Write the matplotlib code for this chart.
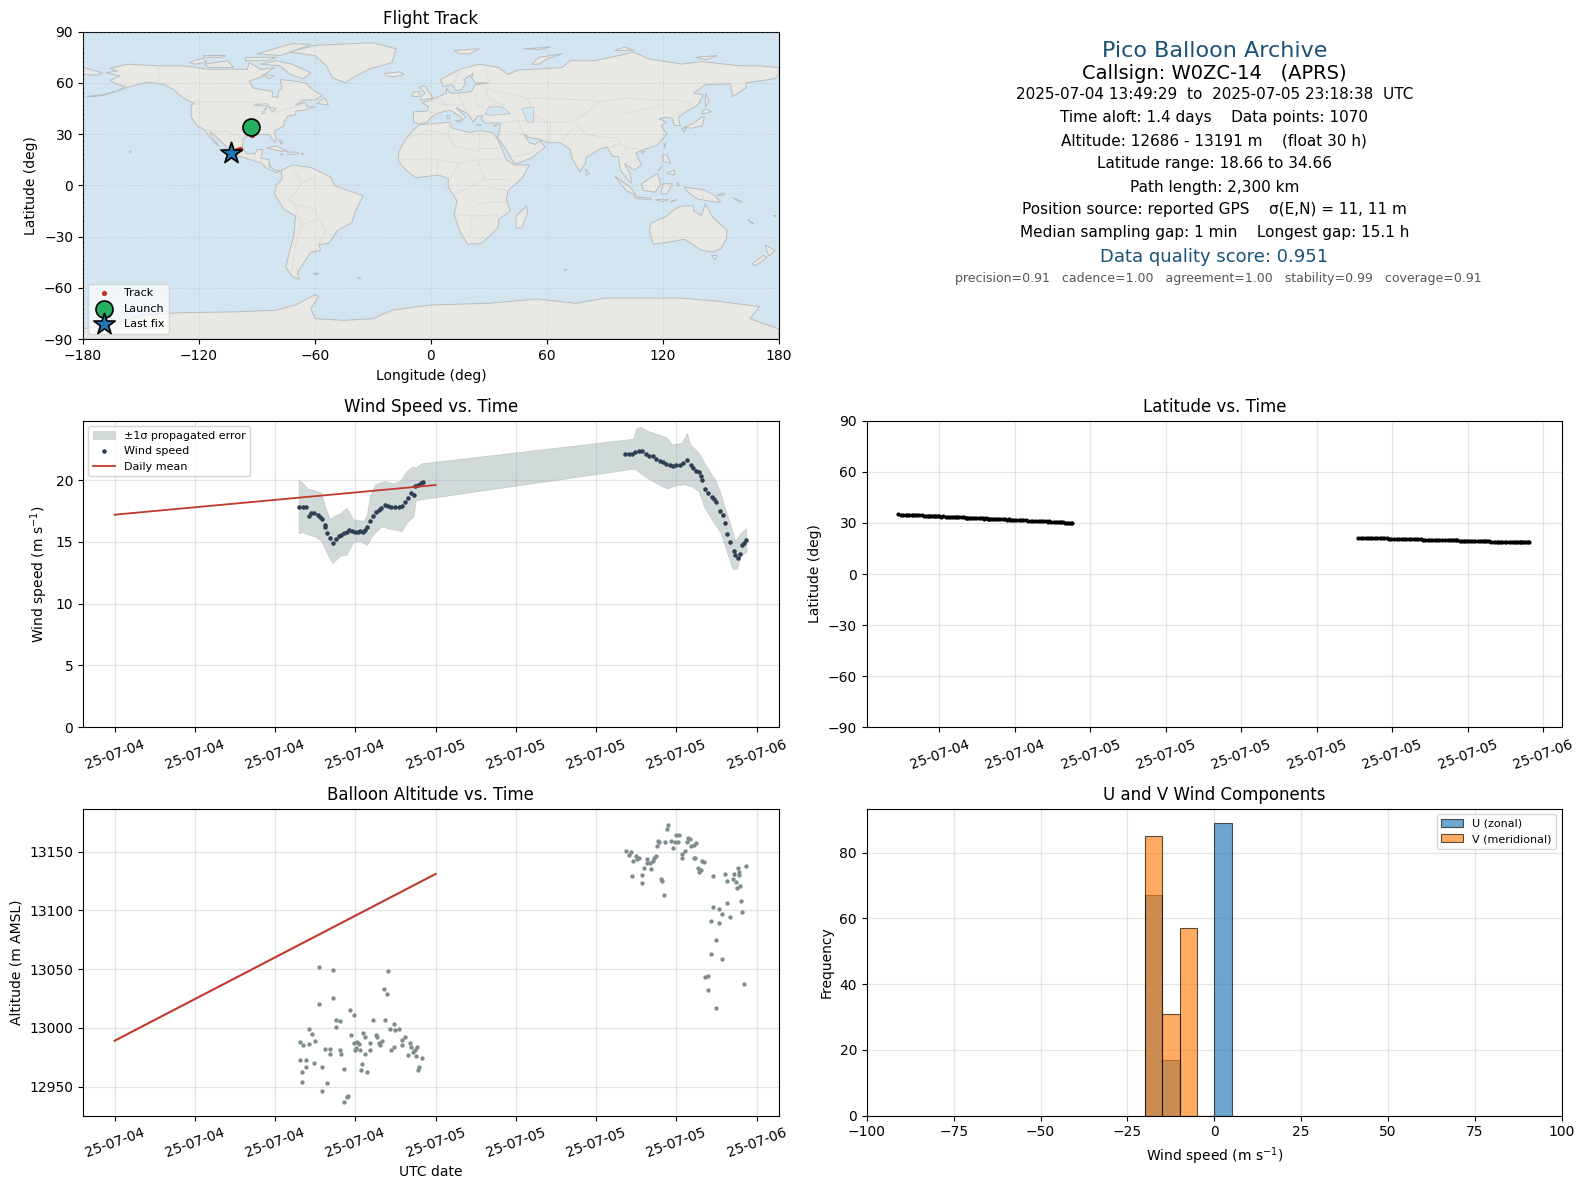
import datetime as dt
import numpy as np
import matplotlib
matplotlib.use("Agg")
import matplotlib.pyplot as plt
import matplotlib.dates as mdates

# ---- time series (hours since 2025-07-04 00:00 UTC) ----
wind_h = [13.8,14.05,14.3,14.53,14.68,14.93,15.18,15.38,15.5,15.73,15.75,15.9,16.1,16.33,16.55,16.75,16.93,17.18,17.38,17.53,17.73,17.95,18.2,18.38,18.55,18.7,18.88,19.1,19.35,19.58,19.75,19.95,20.2,20.45,20.7,20.98,21.25,21.5,21.73,21.93,22.15,22.38,22.45,22.65,22.88,23.03,
          38.2,38.45,38.7,38.95,39.2,39.45,39.7,39.95,40.25,40.5,40.75,41.0,41.25,41.5,41.75,42.0,42.25,42.5,42.8,43.08,43.28,43.45,43.7,43.85,43.95,44.15,44.4,44.65,44.85,45.0,45.25,45.48,45.68,45.83,46.05,46.28,46.4,46.58,46.75,46.88,47.08,47.25]
wind_v = [17.82,17.85,17.80,17.12,17.31,17.31,17.18,17.02,16.88,16.40,16.24,15.73,15.30,14.92,15.24,15.46,15.59,15.73,15.78,15.97,15.91,15.81,15.81,15.86,15.83,15.99,16.21,16.69,17.07,17.42,17.61,17.77,17.98,17.93,17.85,17.80,17.82,17.90,18.23,18.55,18.98,18.79,19.54,19.60,19.73,19.87,
          22.10,22.10,22.12,22.28,22.37,22.34,22.12,21.96,21.94,21.69,21.56,21.45,21.29,21.24,21.18,21.24,21.21,21.37,21.59,21.21,20.94,20.75,20.62,20.30,20.0,19.30,18.95,18.66,18.49,18.20,17.53,17.15,16.53,15.67,14.97,14.27,13.90,13.71,14.03,14.78,14.89,15.13]
band_up_h = [13.8,14.13,14.5,14.75,15.13,15.5,15.75,16.13,16.38,16.88,17.38,17.88,18.63,18.88,19.13,19.5,20.25,20.88,21.38,21.88,22.3,22.55,23.0,
             38.83,39.0,39.33,39.95,40.7,41.33,41.7,42.45,42.83,43.08,43.7,44.2,44.95,45.33,45.95,46.45,46.83,47.25]
band_up_v = [20.0,19.70,19.22,19.22,19.09,18.95,17.88,16.80,17.02,17.28,17.72,16.80,16.67,17.07,18.68,19.62,19.89,19.70,19.89,20.70,21.05,20.97,21.32,
             23.31,24.11,24.27,23.92,23.66,23.39,22.85,22.98,23.79,22.85,22.18,21.24,19.97,18.95,16.80,15.05,15.67,16.05]
band_lo_h = [13.8,14.13,14.63,15.0,15.5,15.88,16.33,16.88,17.38,17.88,18.38,18.88,19.38,20.0,20.5,21.5,21.88,22.38,22.55,23.0,
             38.9,39.83,40.58,41.33,42.0,42.58,43.2,43.7,44.08,44.83,45.33,45.83,46.25,46.58,46.83,47.3]
band_lo_v = [15.67,15.73,15.51,15.40,15.05,14.11,13.23,13.84,13.92,14.97,15.05,14.70,15.59,16.21,16.05,15.83,16.53,17.02,18.31,18.41,
             20.89,20.16,19.70,19.27,19.54,19.62,19.44,19.09,17.88,16.53,15.73,14.11,12.77,12.77,13.84,14.17]
daily_h = [0, 24]
daily_wind = [17.2, 19.6]
daily_alt = [12989, 13131]

lat_v = [35.0,34.9,34.8,34.7,34.6,34.5,34.3,34.2,34.1,34.0,34.0,33.9,33.7,33.6,33.5,33.4,33.3,33.2,33.1,33.0,32.9,32.8,32.7,32.6,32.5,32.4,32.3,32.2,32.1,32.0,31.9,31.7,31.6,31.5,31.3,31.2,31.0,30.9,30.8,30.6,30.5,30.3,30.3,30.1,30.0,29.8,
         21.3,21.3,21.2,21.2,21.1,21.0,20.9,20.8,20.8,20.7,20.6,20.5,20.4,20.3,20.2,20.1,20.1,20.0,19.9,19.8,19.7,19.7,19.6,19.5,19.5,19.4,19.3,19.2,19.2,19.1,19.0,19.0,18.9,18.9,18.8,18.8,18.8,18.7,18.7,18.7,18.7,18.7]
lat_extra_h = [13.95,14.2,14.4,14.6,14.8,15.05,15.28,15.45,15.62,15.83,16.0,16.2,16.45,16.65,16.85,17.05,17.28,17.45,17.63,17.85,18.08,18.3,18.47,18.63,18.8,19.0,19.22,19.47,19.67,19.85,20.08,20.33,20.58,20.85,21.12,21.38,21.62,21.83,22.05,22.27,22.55,22.77,22.95,
               38.33,38.58,38.83,39.08,39.33,39.58,39.83,40.1,40.38,40.63,40.88,41.13,41.38,41.63,41.88,42.13,42.38,42.65,42.95,43.18,43.38,43.58,43.78,44.05,44.28,44.53,44.75,44.93,45.13,45.37,45.58,45.75,45.95,46.17,46.5,46.67,46.82,46.98,47.17]
lat_extra_v = [34.95,34.85,34.75,34.65,34.55,34.4,34.25,34.15,34.05,34.0,33.95,33.8,33.65,33.55,33.45,33.35,33.25,33.15,33.05,32.95,32.85,32.75,32.65,32.55,32.45,32.35,32.25,32.15,32.05,31.95,31.8,31.65,31.55,31.4,31.25,31.1,30.95,30.85,30.7,30.55,30.4,30.2,30.05,
               21.3,21.25,21.2,21.15,21.05,20.95,20.85,20.8,20.75,20.65,20.55,20.45,20.35,20.25,20.15,20.1,20.05,19.95,19.85,19.75,19.7,19.65,19.55,19.5,19.45,19.35,19.25,19.2,19.15,19.05,19.0,18.95,18.9,18.85,18.8,18.75,18.7,18.7,18.7]

alt_h = [15.28,16.33,20.45,20.15,20.38,16.33,15.28,17.6,17.9,19.33,20.23,16.55,16.83,20.9,16.55,20.6,14.53,21.23,21.0,18.58,14.75,17.68,19.58,18.73,19.63,21.73,21.5,15.0,13.85,14.53,14.08,18.13,17.9,18.28,19.1,20.0,19.78,19.85,22.1,21.5,20.9,20.68,19.1,18.35,18.05,17.98,15.73,16.1,16.85,16.1,16.93,18.73,22.18,22.58,22.48,22.33,21.95,22.55,13.85,14.3,23.0,14.9,18.5,14.3,15.5,17.15,18.43,14.0,18.88,22.78,22.7,14.0,15.88,15.5,17.43,17.35,17.15,
         41.38,41.3,42.2,41.98,42.88,43.03,40.63,41.6,42.13,41.9,41.15,40.7,42.8,43.48,43.3,43.13,40.55,41.73,42.65,38.25,38.6,42.43,42.43,38.45,38.98,39.2,39.05,40.48,40.35,39.8,38.75,40.25,39.83,40.0,39.58,40.1,38.68,39.43,39.43,40.85,40.93,41.08,43.35,43.43,43.93,44.08,43.63,43.85,43.7,44.75,45.65,46.33,46.63,46.7,47.23,46.7,46.25,45.8,46.48,46.78,46.55,46.85,45.8,44.75,45.2,46.93,45.43,46.03,44.6,45.2,44.98,44.6,45.43,44.38,44.15,47.08,44.38,44.98]
alt_v = [13052,13049,13048,13033,13029,13025,13020,13015,13011,13007,13007,13007,13006,13003,13001,12999,12999,12999,12998,12996,12995,12994,12994,12992,12992,12992,12990,12989,12988,12986,12985,12988,12987,12986,12987,12989,12987,12985,12987,12985,12984,12981,12981,12981,12983,12981,12982,12982,12981,12978,12978,12978,12984,12984,12981,12979,12977,12976,12973,12973,12974,12970,12969,12967,12967,12965,12964,12962,12962,12967,12964,12954,12953,12946,12942,12941,12937,
         13173,13169,13164,13164,13162,13161,13159,13159,13158,13158,13158,13158,13158,13157,13156,13155,13155,13153,13151,13151,13150,13148,13145,13147,13146,13145,13144,13146,13145,13144,13142,13142,13140,13140,13136,13135,13129,13130,13123,13127,13125,13113,13145,13145,13142,13141,13136,13134,13133,13129,13131,13131,13136,13133,13138,13130,13127,13125,13124,13121,13119,13108,13106,13103,13101,13099,13097,13094,13091,13089,13075,13063,13059,13044,13043,13037,13032,13017]

# ---- histogram ----
hist_bin_left = [-20, -15, -10, -5, 0]
hist_u = [67, 17, 0, 0, 89]
hist_v = [85, 31, 57, 0, 0]
hist_width = 5

# ---- track ----
track_lon = [-93.0,-92.9,-92.8,-92.7,-92.6,-92.5,-92.4,-99.0,-99.6,-100.2,-100.9,-101.5,-102.2,-102.9,-103.6]
track_lat = [34.3,33.5,32.6,31.7,30.9,30.1,29.3,21.3,20.9,20.5,20.2,19.8,19.4,19.0,18.7]
launch = (-93.0, 34.3)
last_fix = (-103.6, 18.7)

# ---- coarse map outlines (lon, lat) ----
land = {
 "north_america": [(-168,66),(-162,67),(-166,68.5),(-157,71),(-141,70),(-128,70),(-115,68),(-108,68),(-95,68),(-94,72),(-88,68),(-81,69),(-87,64),(-94,61),(-92,57),(-82,55),(-82,52),(-79,51.5),(-79,55),(-77,57),(-78,62),(-70,61),(-65,60),(-61,56),(-56,52.5),(-60,50),(-66,50),(-70,47),(-65,48.5),(-64,46),(-60,46),(-66,44),(-70,43.5),(-70,41.5),(-74,40.5),(-76,37),(-76,35),(-81,31.5),(-80,27),(-80.5,25),(-82,27),(-84,30),(-90,29.5),(-94,29.5),(-97,27.5),(-97.5,22),(-95,18.5),(-91,18.5),(-90,21),(-87,21),(-88,16),(-83.5,15),(-83.5,11),(-81,9),(-77.5,8.5),(-80,7.5),(-85,10),(-87.5,13),(-92,14.5),(-96,16),(-102,18),(-105.5,20.5),(-106,23),(-109,26),(-112.5,30),(-114.5,31.5),(-113,28),(-109.5,23),(-112,25),(-115,29),(-117,32.5),(-120.5,34.5),(-124,40),(-124,47),(-122.5,48),(-128,51),(-133,56),(-138,59),(-146,60.5),(-152,59),(-158,57),(-164,54.5),(-158,58),(-162,59),(-166,61.5),(-161,64)],
 "greenland": [(-73,78),(-60,82),(-30,83.5),(-18,80),(-20,72),(-32,68),(-42,62),(-44,60),(-51,63),(-54,70),(-60,76)],
 "baffin": [(-80,73),(-72,71),(-62,66),(-66,62.5),(-73,65),(-78,70),(-88,71)],
 "victoria": [(-117,71),(-105,73),(-102,69),(-115,69)],
 "ellesmere": [(-90,77),(-72,83),(-62,82.5),(-78,76)],
 "banks": [(-125,72),(-118,74.5),(-116,72),(-122,71)],
 "devon": [(-96,75),(-80,75),(-85,73),(-96,73)],
 "melville": [(-118,76),(-106,76),(-108,75),(-117,75)],
 "southampton": [(-87,65),(-81,64),(-84,62.5)],
 "newfoundland": [(-59,48),(-55,51.5),(-53,47)],
 "cuba": [(-85,22),(-80,23),(-74,20),(-78,20)],
 "hispaniola": [(-74,19.5),(-69,19.5),(-68.5,18.5),(-74,18)],
 "jamaica": [(-78,18.4),(-76.3,18.1),(-77.5,17.8)],
 "puerto_rico": [(-67,18.5),(-65.7,18.4),(-66.5,18)],
 "bahamas": [(-78.5,26.8),(-76.5,25),(-77.5,24)],
 "hawaii": [(-156,20.2),(-155,19.7),(-155.7,19)],
 "aleutian": [(-178,52),(-170,53),(-164,54.8),(-170,52.5)],
 "iceland": [(-24,65.5),(-16,66.5),(-14,65),(-19,63.5),(-23,64)],
 "britain": [(-5.5,50),(1,51),(0,53),(-2,56),(-3,58.5),(-6,57.5),(-3,54),(-5,52)],
 "ireland": [(-10,52),(-6,52),(-6,55),(-9,54.5)],
 "svalbard": [(12,79),(25,80),(20,77),(15,77)],
 "franz_josef": [(48,80),(62,81),(56,79.5)],
 "severnaya": [(95,79),(105,79),(100,81)],
 "new_siberia": [(137,75),(148,76),(142,73.5)],
 "novaya": [(52,71),(56,75),(68,77),(60,74),(56,71)],
 "sicily": [(12.5,38),(15.5,38.2),(15,36.8)],
 "sardinia": [(8.3,41),(9.7,41),(9.5,39),(8.5,39)],
 "crete": [(23.5,35.5),(26.2,35.2),(24.5,35)],
 "cyprus": [(32.3,35),(34.5,35.5),(33.5,34.6)],
 "south_america": [(-77.5,8.5),(-72,12),(-62,10.5),(-52,5),(-50,0),(-44,-2.5),(-35,-6),(-39,-15),(-41,-22),(-48,-26),(-53,-34),(-58,-34.5),(-57,-38),(-62,-39),(-65,-44),(-69,-51),(-68,-55),(-72,-53),(-75,-48),(-73,-38),(-71,-30),(-70,-18),(-76,-14),(-81,-5),(-80,0),(-77,4)],
 "falkland": [(-61,-51.5),(-58,-51.5),(-59.5,-52.3)],
 "south_georgia": [(-38,-54),(-36,-54.3),(-37,-54.8)],
 "africa": [(-6,35.5),(10,37),(11,33.5),(20,31),(25,32),(32,31),(34,28),(37,21),(39,15),(43,12),(51,12),(47,4),(40,-3),(39,-8),(41,-15),(35,-20),(35,-24),(32,-28),(26,-34),(19,-34.5),(15,-27),(12,-17),(13.5,-9),(9,-1),(9,4),(4,6),(-4,5),(-8,4.5),(-13,9),(-17,14.5),(-16.5,20),(-13,27),(-9.5,32)],
 "madagascar": [(49.5,-12),(50,-16),(47,-25),(44,-25),(44,-18)],
 "eurasia": [(-9,37),(-6,36),(-2,37),(0,39.5),(3,42),(6,43),(10,44),(15.5,40),(16,38),(18,40),(13,45.5),(19,42),(22,37),(24,40.5),(27,41),(26,39),(28,36.5),(36,36.5),(35.5,32),(34.5,28),(39,21),(43,13),(45,13),(52,16),(59,22.5),(56.5,26),(54,24),(51,25),(48,30),(51,28),(56,27),(61,25),(67,25),(72,21),(73,16),(77,8),(80,13),(80,16),(87,21),(91,22.5),(94,17),(97,17),(98,9),(103,2),(104,1.5),(103,7),(100,13),(105,9),(109,12),(106,19),(110,21),(117,23.5),(122,30),(119,35),(122,37),(118,39),(122,40),(125,39),(126,35),(129,35),(128,40),(132,43),(138,47),(141,53),(136,54),(142,59),(155,59.5),(156,52),(163,57),(163,60),(178,62.5),(180,65),(180,69),(170,70),(160,70),(140,72.5),(130,71),(113,74),(105,78),(85,73),(72,73),(68,69),(45,67.5),(40,65),(35,69),(25,71),(15,68),(5,62),(6,58),(11,59),(13,55.5),(16,56),(18,60),(17,62),(22,65.5),(21,63),(23,60),(30,60),(23,59),(21,55),(14,54),(10,54),(8,57),(8,54),(4,52),(-1,49.5),(-4.5,48.5),(-1,46),(-2,43.5),(-9,43)],
 "chukotka": [(-180,65),(-173,64.5),(-170,66),(-180,69)],
 "sumatra": [(95,5.5),(104,-2),(106,-6),(101,-3)],
 "java": [(105,-6.5),(114,-7.5),(114,-8.5),(106,-7.5)],
 "sunda": [(116,-8.3),(123,-8.3),(120,-9.5)],
 "timor": [(124,-9.8),(127,-8.4),(125,-9)],
 "borneo": [(109,1),(117,7),(119,1),(116,-4),(110,-3)],
 "sulawesi": [(120,1),(125,1),(122,-5),(119,-5)],
 "halmahera": [(127.5,2),(128.5,0),(127.5,-0.5)],
 "new_guinea": [(131,-1),(141,-2.5),(147,-6),(150,-10),(143,-9),(138,-8),(133,-4)],
 "new_britain": [(148,-5.5),(152,-4.5),(151,-6)],
 "solomon": [(156,-7),(161,-9.5),(160,-10)],
 "new_caledonia": [(164,-20),(167,-22.3),(165.5,-21.8)],
 "fiji": [(177.3,-17.6),(178.6,-17.8),(178,-18.2)],
 "luzon": [(120,18),(122,18),(124,13),(120,14)],
 "palawan": [(117.3,8.3),(119.5,11),(119,10.2)],
 "mindanao": [(122,7),(126,9),(126,6)],
 "taiwan": [(120.5,23),(121.5,25),(121,22)],
 "hainan": [(108.7,19.5),(110.8,20),(109.5,18.3)],
 "sri_lanka": [(80,9.5),(82,7),(80.5,6)],
 "honshu": [(131,34),(136,36.5),(140,40),(141.5,40),(140.5,35),(135,33.5)],
 "kyushu": [(129.7,33.5),(132,33.5),(131,31)],
 "hokkaido": [(140,42),(142,45),(145,43),(141,42)],
 "sakhalin": [(142,46),(142,54),(144,49)],
 "australia": [(114,-22),(122,-18),(126,-14),(130,-12),(136,-12),(136,-15),(140,-17.5),(142,-11),(146,-19),(153,-26),(153,-31),(150,-37),(146,-39),(140,-38),(136,-35),(131,-31.5),(124,-33),(115,-34.5),(113,-26)],
 "tasmania": [(145,-41),(148,-41),(147,-43.5)],
 "nz_north": [(173,-35),(178,-38),(175,-41.5),(174,-39)],
 "nz_south": [(172,-41),(174,-42),(168,-47),(166,-46)],
 "kerguelen": [(69,-49),(70.5,-49.2),(69.5,-50)],
 "antarctica": [(-180,-90),(-180,-84),(-160,-80),(-150,-76),(-130,-74.5),(-100,-74),(-80,-73),(-70,-70),(-60,-64),(-58,-65),(-62,-72),(-60,-78),(-45,-79),(-30,-78),(-20,-73),(0,-70),(30,-69),(55,-66.5),(75,-69),(90,-66),(130,-66),(150,-68),(170,-71),(165,-78),(180,-84),(180,-90)],
}
water = {
 "black_sea": [(28,41.5),(30,46),(33,46),(37,46),(41,42),(36,41.5),(31,41)],
 "caspian": [(47,45),(53,46),(53,37),(50,37),(48,42)],
 "superior": [(-92,47),(-85,48),(-84,46.5),(-88,46.5)],
 "michigan": [(-87.5,42),(-85,46),(-86,42)],
 "huron": [(-84,46),(-80,45),(-82,43)],
}
borders = [
 [(-123,49),(-95,49),(-89,48),(-83,46),(-82,43),(-79,43),(-75,45),(-70,46),(-67,47)],
 [(-117,32.5),(-108,31.5),(-106,31.5),(-101,29.5),(-97,26)],
 [(-141,70),(-141,60)],
 [(-92,14.5),(-91,18)],[(-88,16),(-87.5,13)],[(-83.5,15),(-85,10)],
 [(-72,12),(-67,1),(-70,-4),(-74,-8),(-70,-11),(-69,-18)],[(-60,5),(-67,1)],
 [(-70,-11),(-60,-14),(-58,-20),(-54,-26),(-58,-34)],[(-69,-18),(-67,-23),(-70,-35),(-72,-50)],[(-67,-23),(-58,-20)],
 [(-13,27),(-2,32),(9,30),(10,37)],[(9,30),(12,23),(25,20),(25,32)],[(25,22),(37,22)],[(-17,15),(3,15),(15,13),(24,15),(37,15)],
 [(3,15),(3,6)],[(15,13),(10,4)],[(24,15),(28,4),(13,-5)],[(28,4),(40,4)],[(30,-1),(40,-3)],[(13,-17),(24,-18),(35,-17)],[(20,-18),(20,-28)],[(24,-11),(30,-10),(39,-10)],
 [(-2,43.5),(3,42)],[(-1,49.5),(8,47),(7,44)],[(4,52),(8,47)],[(8,47),(17,47),(19,42)],[(14,54),(17,47)],[(23,54),(24,47),(28,45.5)],[(28,57),(30,50),(38,47)],[(28,69),(30,60)],[(15,68),(12,60)],
 [(28,57),(50,51),(60,51),(80,50),(87,49),(100,51),(117,50),(127,50),(135,48),(131,43)],
 [(50,51),(53,42),(60,37),(72,37),(80,42),(87,49)],[(75,36),(80,30),(90,28),(97,28),(98,24),(102,22),(108,21)],
 [(61,25),(62,36)],[(67,25),(74,34)],[(36,36.5),(45,38),(48,30)],[(39,32),(48,30)],[(45,38),(60,37)],[(43,17),(52,19),(56,24)],
 [(92,22),(98,24)],[(98,16),(102,22)],[(100,13),(107,15)],[(141,-2.5),(141,-9)],[(100,6),(103,6)],
 [(124,40),(130,43)],[(100,42),(120,47)],
]

base = mdates.date2num(dt.datetime(2025, 7, 4))
def T(h):
    return base + np.asarray(h, dtype=float) / 24.0

plt.rcParams["font.family"] = "DejaVu Sans"
W, H = 1586, 1189
S = 1586 / 1568.0
fig = plt.figure(figsize=(W / 100, H / 100), dpi=100)
def make_ax(x0, x1, y0, y1):
    return fig.add_axes([x0 * S / W, 1 - y1 * S / H, (x1 - x0) * S / W, (y1 - y0) * S / H])

LX, RX = (82, 770), (857, 1544)
ROW1, ROW2, ROW3 = (31.3, 335.3), (416, 719), (799.4, 1103.0)
ax_map = make_ax(*LX, *ROW1); ax_txt = make_ax(*RX, *ROW1)
ax_wind = make_ax(*LX, *ROW2); ax_lat = make_ax(*RX, *ROW2)
ax_alt = make_ax(*LX, *ROW3); ax_hist = make_ax(*RX, *ROW3)

GRID = "#b8bcbf"; RED = "#c0392b"
# ---- map ----
ax_map.set_facecolor("#d3e5f1")
for pts in land.values():
    xy = np.array(pts)
    ax_map.fill(xy[:, 0], xy[:, 1], facecolor="#e8e8e4", edgecolor="#b9bdbe", lw=0.7, zorder=1)
for pts in water.values():
    xy = np.array(pts)
    ax_map.fill(xy[:, 0], xy[:, 1], facecolor="#d3e5f1", edgecolor="#b9bdbe", lw=0.5, zorder=1.2)
for pts in borders:
    xy = np.array(pts)
    ax_map.plot(xy[:, 0], xy[:, 1], color="#dadbd8", lw=0.6, zorder=1.1)
ax_map.scatter(track_lon, track_lat, s=8, color=RED, label="Track", zorder=3)
ax_map.scatter(*launch, s=150, color="#27ae60", edgecolor="black", lw=1.2, label="Launch", zorder=4)
ax_map.scatter(*last_fix, s=260, marker="*", color="#1f77b4", edgecolor="black", lw=1.2, label="Last fix", zorder=5)
ax_map.set_xlim(-180, 180); ax_map.set_ylim(-90, 90)
ax_map.set_xticks(range(-180, 181, 60)); ax_map.set_yticks(range(-90, 91, 30))
ax_map.grid(True, color="#9aa3a8", alpha=0.25, lw=0.6, ls="--", zorder=2)
ax_map.set_axisbelow(False)
ax_map.set_xlabel("Longitude (deg)", labelpad=4.6); ax_map.set_ylabel("Latitude (deg)")
ax_map.set_title("Flight Track", fontsize=12, pad=5.6)
ax_map.legend(loc="lower left", fontsize=8, framealpha=0.7)

# ---- text panel ----
ax_txt.axis("off")
BLUE = "#1a5276"
info_lines = [
 ("Pico Balloon Archive", 16, BLUE, 50.6, 0.5),
 ("Callsign: W0ZC-14   (APRS)", 14, "black", 72, 0.5),
 ("2025-07-04 13:49:29  to  2025-07-05 23:18:38  UTC", 11, "black", 93, 0.5),
 ("Time aloft: 1.4 days    Data points: 1070", 11, "black", 116, 0.5),
 ("Altitude: 12686 - 13191 m    (float 30 h)", 11, "black", 139, 0.5),
 ("Latitude range: 18.66 to 34.66", 11, "black", 161.6, 0.5),
 ("Path length: 2,300 km", 11, "black", 184.6, 0.5),
 ("Position source: reported GPS    σ(E,N) = 11, 11 m", 11, "black", 207, 0.5),
 ("Median sampling gap: 1 min    Longest gap: 15.1 h", 11, "black", 230, 0.5),
 ("Data quality score: 0.951", 13, BLUE, 254, 0.5),
 ("precision=0.91   cadence=1.00   agreement=1.00   stability=0.99   coverage=0.91", 9, "#555555", 274.6, 0.506),
]
for text, size, color, ypx, xpos in info_lines:
    ax_txt.text(xpos, 1 - (ypx - 31) / 304.0, text, fontsize=size, color=color,
                ha="center", va="center", transform=ax_txt.transAxes)

def time_axis(ax, h0, h1, step):
    ax.set_xlim(T(h0), T(h1))
    ax.xaxis.set_major_locator(mdates.HourLocator(byhour=range(0, 24, step)))
    ax.xaxis.set_major_formatter(mdates.DateFormatter("%y-%m-%d"))
    ax.tick_params(axis="x", labelrotation=20)
    ax.grid(True, color=GRID, alpha=0.4, lw=0.9)
    ax.set_axisbelow(True)

# ---- wind ----
ax_wind.fill(np.r_[T(band_up_h), T(band_lo_h)[::-1]], np.r_[band_up_v, band_lo_v[::-1]],
             color="#95a5a6", alpha=0.42, lw=0.5, label="±1σ propagated error")
ax_wind.scatter(T(wind_h), wind_v, s=5, color="#2c3e50", label="Wind speed", zorder=3)
ax_wind.plot(T(daily_h), daily_wind, color=RED, lw=1.3, label="Daily mean", zorder=4)
time_axis(ax_wind, -2.37, 49.67, 6)
ax_wind.set_ylim(0, 24.8)
ax_wind.set_ylabel("Wind speed (m s$^{-1}$)")
ax_wind.set_title("Wind Speed vs. Time", fontsize=12)
ax_wind.legend(loc="upper left", fontsize=8)

# ---- latitude ----
ax_lat.scatter(T(wind_h), lat_v, s=4, color="black", zorder=3)
ax_lat.scatter(T(lat_extra_h), lat_extra_v, s=4, color="black", zorder=3)
time_axis(ax_lat, 12.15, 48.98, 4)
ax_lat.set_ylim(-90, 90); ax_lat.set_yticks(range(-90, 91, 30))
ax_lat.set_ylabel("Latitude (deg)")
ax_lat.set_title("Latitude vs. Time", fontsize=12)

# ---- altitude ----
ax_alt.scatter(T(alt_h), alt_v, s=4.5, color="#7f8c8d", zorder=3)
ax_alt.plot(T(daily_h), daily_alt, color=RED, lw=1.5, zorder=4)
time_axis(ax_alt, -2.37, 49.67, 6)
ax_alt.set_ylim(12925.2, 13186.7)
ax_alt.set_yticks(range(12950, 13151, 50))
ax_alt.set_ylabel("Altitude (m AMSL)"); ax_alt.set_xlabel("UTC date")
ax_alt.set_title("Balloon Altitude vs. Time", fontsize=12)

# ---- histogram ----
ax_hist.bar(hist_bin_left, hist_u, width=hist_width, align="edge", color="#1f77b4", alpha=0.65,
            edgecolor="black", lw=0.8, label="U (zonal)", zorder=3)
ax_hist.bar(hist_bin_left, hist_v, width=hist_width, align="edge", color="#ff7f0e", alpha=0.65,
            edgecolor="black", lw=0.8, label="V (meridional)", zorder=3)
ax_hist.set_xlim(-100, 100); ax_hist.set_ylim(0, 93.45)
ax_hist.grid(True, color=GRID, alpha=0.4, lw=0.9); ax_hist.set_axisbelow(True)
ax_hist.set_xlabel("Wind speed (m s$^{-1}$)"); ax_hist.set_ylabel("Frequency")
ax_hist.set_title("U and V Wind Components", fontsize=12)
ax_hist.legend(loc="upper right", fontsize=8)

fig.savefig("out.png", dpi=100)
